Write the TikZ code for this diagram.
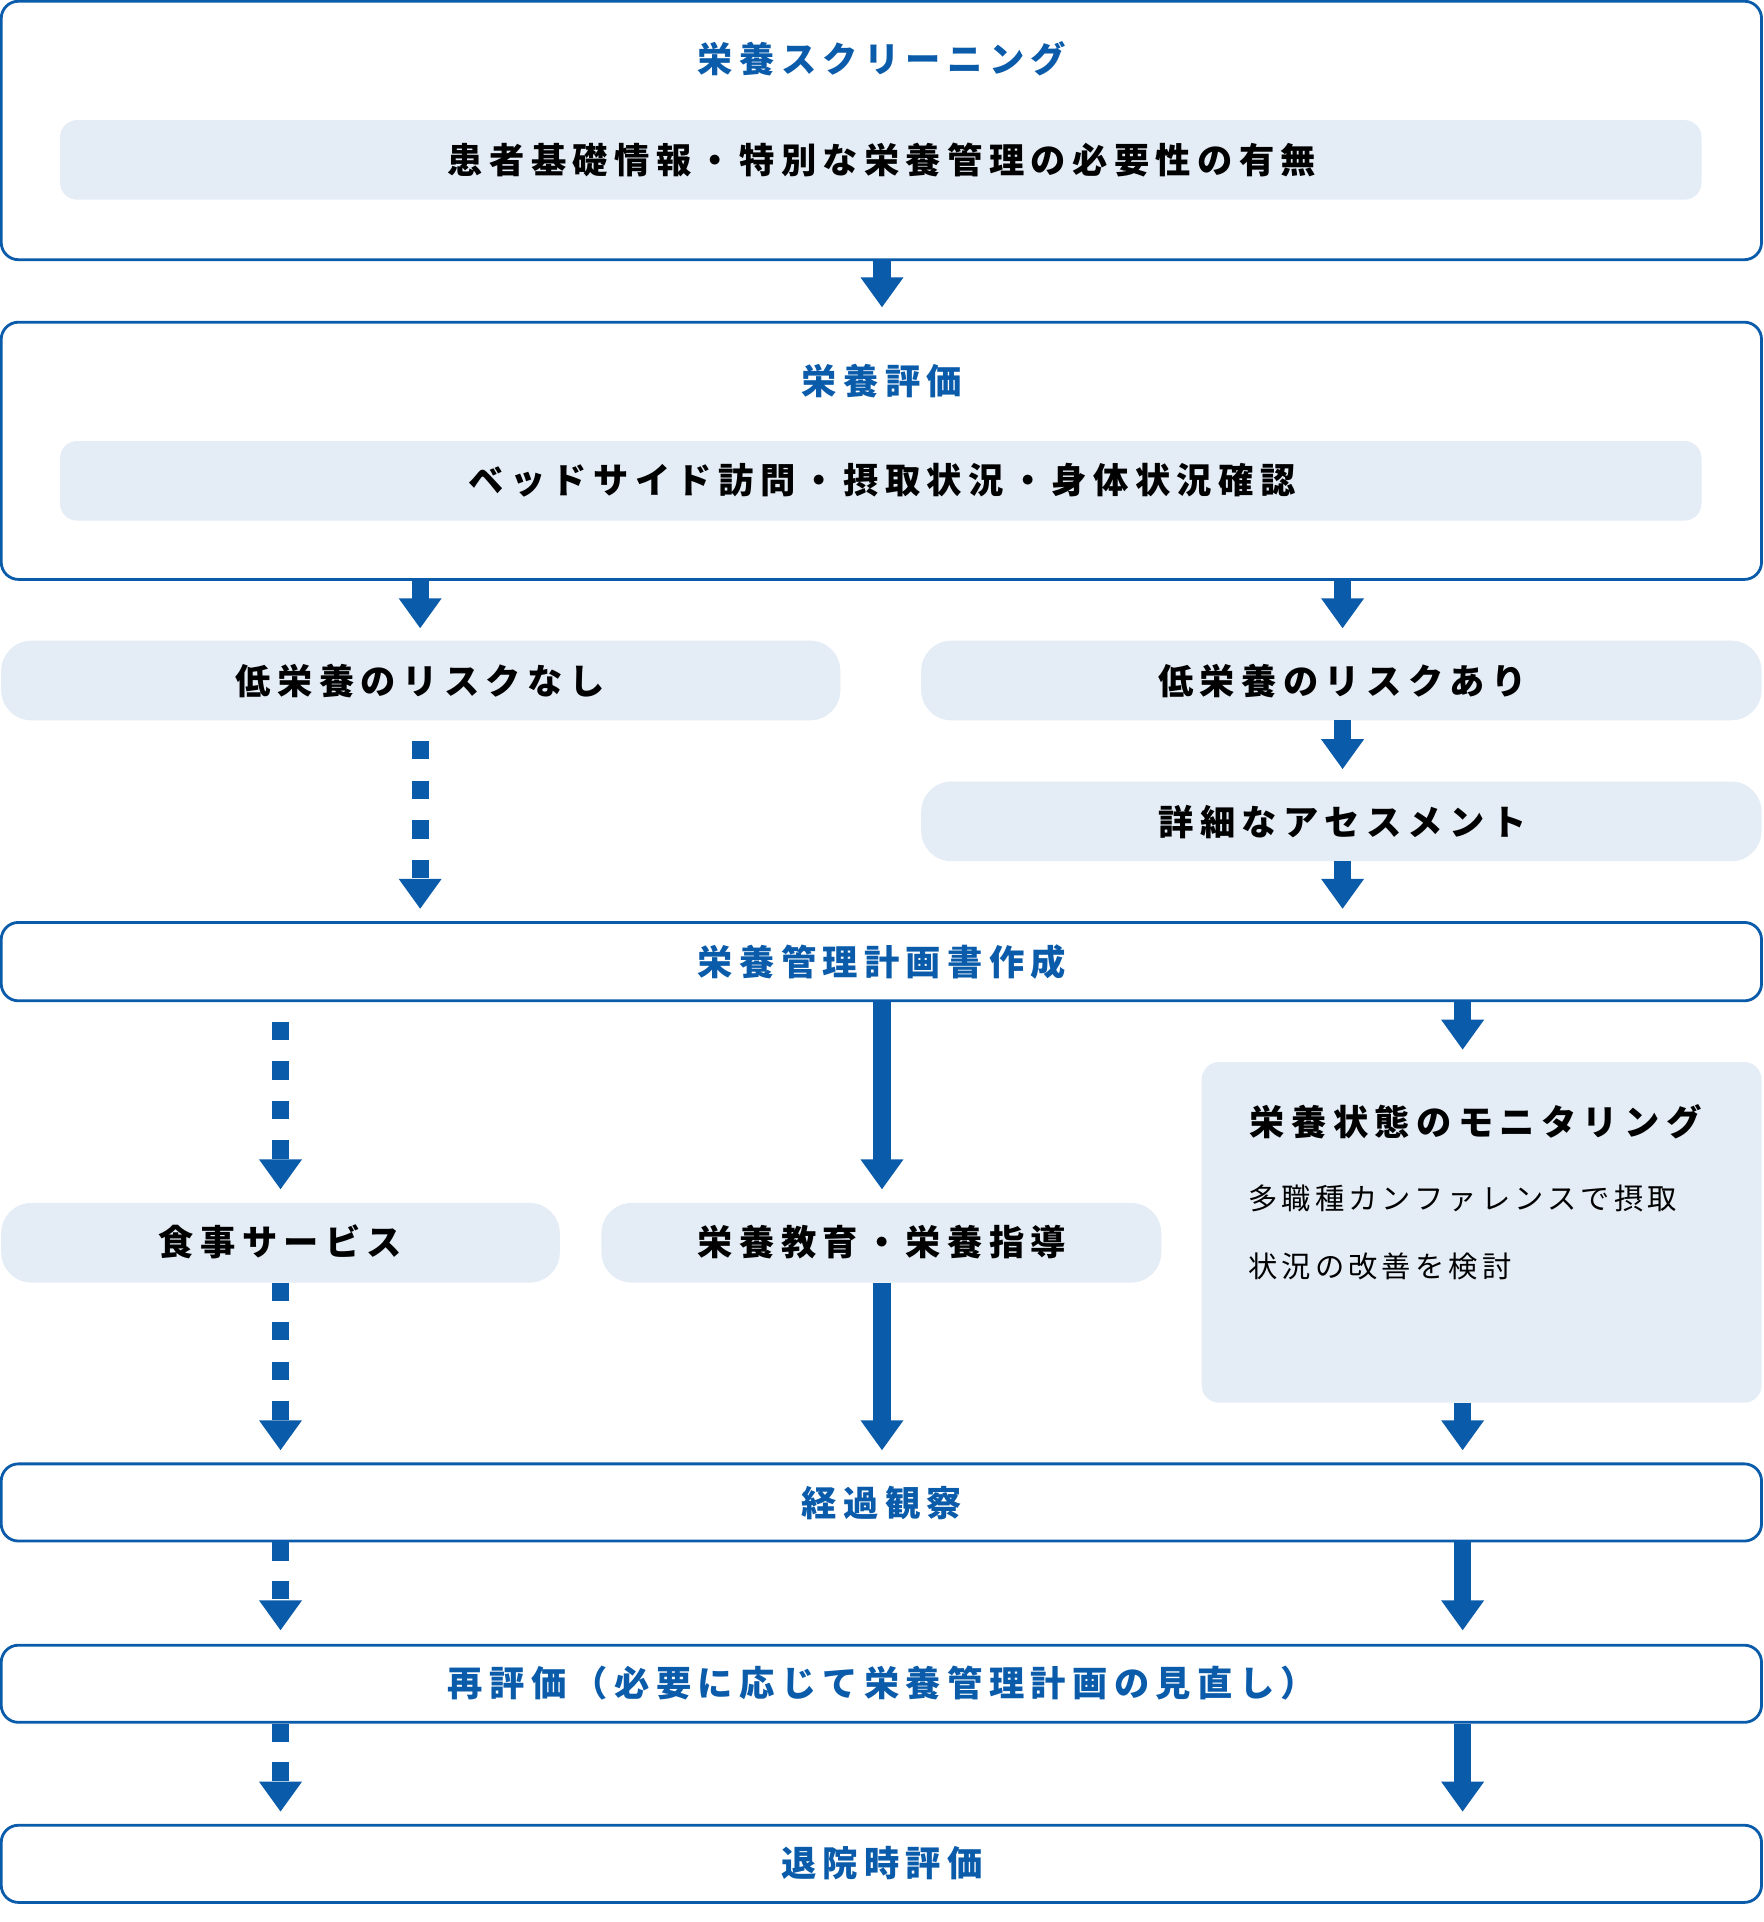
\documentclass[tikz,border=0pt]{standalone}
\usepackage{fontspec}
\setmainfont{Noto Sans CJK JP}[LetterSpace=18]
\newfontfamily\jpnorm{Noto Sans CJK JP}[LetterSpace=14]
\usetikzlibrary{arrows.meta}
\definecolor{bl}{HTML}{0A5BAA}
\definecolor{lt}{HTML}{E4ECF5}
\begin{document}
\begin{tikzpicture}[x=0.02cm,y=-0.02cm,
  frame/.style={draw=bl,line width=1.3pt,rounded corners=8pt,fill=white},
  pill/.style={fill=lt,rounded corners=14pt},
  inner/.style={fill=lt,rounded corners=8pt},
  ttl/.style={text=bl,font=\fontsize{16.4}{20}\selectfont\bfseries},
  blk/.style={text=black,font=\fontsize{16.4}{20}\selectfont\bfseries},
  arr/.style={draw=bl,line width=8pt,-{Triangle[width=19pt,length=14pt]}},
  darr/.style={arr,dash pattern=on 8.5pt off 9.9pt}]
\useasboundingbox (0,0) rectangle (1440,1569);
% boxes
\draw[frame] (1,1) rectangle (1438,212);
\fill[inner] (49,98) rectangle (1389,163);
\node[ttl] (t1) at (720,48) {栄養スクリーニング};
\node[blk] (s1) at (720,131) {患者基礎情報・特別な栄養管理の必要性の有無};
\draw[frame] (1,263) rectangle (1438,473);
\fill[inner] (49,360) rectangle (1389,425);
\node[ttl] (t2) at (720,311) {栄養評価};
\node[blk] (s2) at (720,392) {ベッドサイド訪問・摂取状況・身体状況確認};
\fill[pill] (1,523) rectangle (686,588);
\node[blk] (nr) at (343,556) {低栄養のリスクなし};
\fill[pill] (752,523) rectangle (1438,588);
\node[blk] (ar) at (1096,556) {低栄養のリスクあり};
\fill[pill] (752,638) rectangle (1438,703);
\node[blk] (as) at (1096,671) {詳細なアセスメント};
\draw[frame] (1,753) rectangle (1438,817);
\node[ttl] (pl) at (720,785) {栄養管理計画書作成};
\fill[lt,rounded corners=8pt] (981,867) rectangle (1438,1145);
\node[blk,anchor=west] (mo) at (1014,916) {栄養状態のモニタリング};
\node[anchor=west,font=\fontsize{13.6}{16}\selectfont\jpnorm] (m1) at (1013,978) {多職種カンファレンスで摂取};
\node[anchor=west,font=\fontsize{13.6}{16}\selectfont\jpnorm] (m2) at (1013,1034) {状況の改善を検討};
\fill[pill] (1,982) rectangle (457,1047);
\node[blk] (fs) at (229,1014) {食事サービス};
\fill[pill] (491,982) rectangle (948,1047);
\node[blk] (ed) at (720,1014) {栄養教育・栄養指導};
\draw[frame] (1,1195) rectangle (1438,1258);
\node[ttl] (ob) at (720,1227) {経過観察};
\draw[frame] (1,1343) rectangle (1438,1406);
\node[ttl] (re) at (720,1374) {再評価（必要に応じて栄養管理計画の見直し）};
\draw[frame] (1,1490) rectangle (1438,1553);
\node[ttl] (di) at (720,1521) {退院時評価};
% arrows
\coordinate (a1) at (720,212); \coordinate (b1) at (720,251);
\draw[arr] (a1) -- (b1);
\coordinate (a2) at (343,474); \coordinate (b2) at (343,513);
\draw[arr] (a2) -- (b2);
\coordinate (a3) at (1096,474); \coordinate (b3) at (1096,513);
\draw[arr] (a3) -- (b3);
\coordinate (a4) at (343,605); \coordinate (b4) at (343,742);
\draw[darr] (a4) -- (b4);
\coordinate (a5) at (1096,588); \coordinate (b5) at (1096,628);
\draw[arr] (a5) -- (b5);
\coordinate (a6) at (1096,703); \coordinate (b6) at (1096,742);
\draw[arr] (a6) -- (b6);
\coordinate (a7) at (229,834); \coordinate (b7) at (229,971);
\draw[darr] (a7) -- (b7);
\coordinate (a8) at (720,817); \coordinate (b8) at (720,971);
\draw[arr] (a8) -- (b8);
\coordinate (a9) at (1194,817); \coordinate (b9) at (1194,857);
\draw[arr] (a9) -- (b9);
\coordinate (a10) at (229,1047); \coordinate (b10) at (229,1184);
\draw[darr] (a10) -- (b10);
\coordinate (a11) at (720,1047); \coordinate (b11) at (720,1184);
\draw[arr] (a11) -- (b11);
\coordinate (a12) at (1194,1145); \coordinate (b12) at (1194,1184);
\draw[arr] (a12) -- (b12);
\coordinate (a13) at (229,1259); \coordinate (b13) at (229,1331);
\draw[darr,dash pattern=on 8.5pt off 9.5pt] (a13) -- (b13);
\coordinate (a14) at (1194,1259); \coordinate (b14) at (1194,1331);
\draw[arr] (a14) -- (b14);
\coordinate (a15) at (229,1407); \coordinate (b15) at (229,1479);
\draw[darr,dash pattern=on 8.5pt off 9.5pt] (a15) -- (b15);
\coordinate (a16) at (1194,1407); \coordinate (b16) at (1194,1479);
\draw[arr] (a16) -- (b16);
\end{tikzpicture}
\end{document}
